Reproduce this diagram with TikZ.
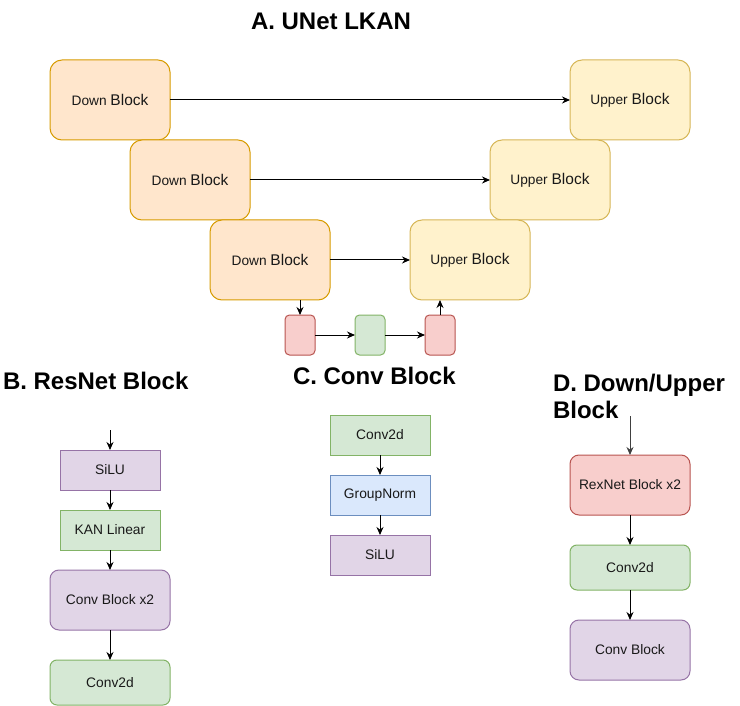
\documentclass[tikz,border=0pt]{standalone}
\usepackage{fontspec}
\setmainfont{Liberation Sans}
\usetikzlibrary{arrows.meta}
\definecolor{downF}{HTML}{FFE6CC}\definecolor{downS}{HTML}{D79B00}
\definecolor{upF}{HTML}{FFF2CC}\definecolor{upS}{HTML}{D6B656}
\definecolor{redF}{HTML}{F8CECC}\definecolor{redS}{HTML}{B85450}
\definecolor{grnF}{HTML}{D5E8D4}\definecolor{grnS}{HTML}{82B366}
\definecolor{bluF}{HTML}{DAE8FC}\definecolor{bluS}{HTML}{6C8EBF}
\definecolor{purF}{HTML}{E1D5E7}\definecolor{purS}{HTML}{9673A6}
\newcommand{\boxfont}{\fontsize{13.8}{16}\selectfont}
\newcommand{\dwn}[1]{{\fontsize{13.7}{15}\selectfont #1} {\fontsize{15.5}{17}\selectfont Block}}
\begin{document}
\begin{tikzpicture}[x=1pt,y=-1pt,
  every node/.style={inner sep=0pt, outer sep=0pt, font=\boxfont, text=black!90},
  blk/.style={line width=1pt, minimum width=#1},
  big/.style={blk=120pt, minimum height=80pt, rounded corners=12pt},
  dblock/.style={big, draw=downS, fill=downF},
  ublock/.style={big, draw=upS, fill=upF},
  tiny/.style={blk=30pt, minimum height=40pt, rounded corners=4.5pt},
  flat/.style={blk=100pt, minimum height=40pt},
  tall/.style={blk=120pt, minimum height=60pt, rounded corners=9pt},
  mid/.style={blk=120pt, minimum height=45pt, rounded corners=7pt},
  red/.style={draw=redS, fill=redF},
  grn/.style={draw=grnS, fill=grnF},
  blu/.style={draw=bluS, fill=bluF},
  pur/.style={draw=purS, fill=purF},
  title/.style={font=\fontsize{24}{27}\selectfont\bfseries, text=black},
  arr/.style={line width=1pt, -{Stealth[length=8pt,width=7pt]}}
]
\useasboundingbox (0,0) rectangle (740,706);

% A
\node[title] (tA) at (331,21) {A. UNet LKAN};
\node[dblock] (d1) at (110,100) {\dwn{Down}};
\node[dblock] (d2) at (190,180) {\dwn{Down}};
\node[dblock] (d3) at (270,260) {\dwn{Down}};
\node[ublock] (u1) at (630,100) {\dwn{Upper}};
\node[ublock] (u2) at (550,180) {\dwn{Upper}};
\node[ublock] (u3) at (470,260) {\dwn{Upper}};
\node[tiny,red] (r1) at (300,335) {};
\node[tiny,grn] (g1) at (370,335) {};
\node[tiny,red] (r2) at (440,335) {};
\draw[arr] (d1) -- (u1);
\draw[arr] (d2) -- (u2);
\draw[arr] (d3) -- (u3);
\draw[arr] (d3.south -| r1.north) -- (r1.north);
\draw[arr] (r1) -- (g1);
\draw[arr] (g1) -- (r2);
\draw[arr] (r2.north) -- (r2.north |- u3.south);

% B
\node[title, anchor=west] (tB) at (3,381) {B. ResNet Block};
\coordinate (bin) at (110,430);
\node[flat,pur] (b1) at (110,470) {SiLU};
\node[flat,grn] (b2) at (110,530) {KAN Linear};
\node[tall,pur] (b3) at (110,600) {Conv Block x2};
\node[mid,grn] (b4) at (110,682.5) {Conv2d};
\draw[arr] (bin) -- (b1);
\draw[arr] (b1) -- (b2);
\draw[arr] (b2) -- (b3);
\draw[arr] (b3) -- (b4);

% C
\node[title, anchor=west] (tC) at (293,376) {C. Conv Block};
\node[flat,grn] (c1) at (380,435) {Conv2d};
\node[flat,blu] (c2) at (380,495) {GroupNorm};
\node[flat,pur] (c3) at (380,555) {SiLU};
\draw[arr] (c1) -- (c2);
\draw[arr] (c2) -- (c3);

% D
\node[title, anchor=west, align=left] (tD) at (553,396.5) {D. Down/Upper\\Block};
\coordinate (din) at (630,416);
\node[tall,red] (e1) at (630,485) {RexNet Block x2};
\node[mid,grn] (e2) at (630,567.5) {Conv2d};
\node[tall,pur] (e3) at (630,650) {Conv Block};
\draw[arr, draw=black!75, fill=black] (din) -- (e1);
\draw[arr] (e1) -- (e2);
\draw[arr] (e2) -- (e3);
\end{tikzpicture}
\end{document}
